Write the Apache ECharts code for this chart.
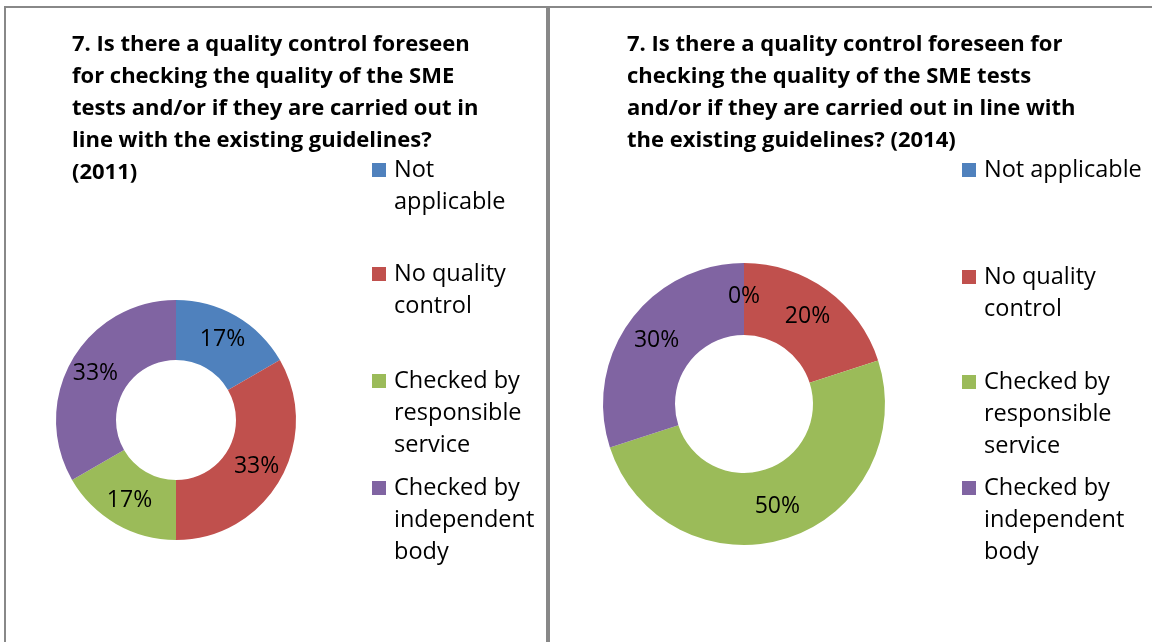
<!DOCTYPE html>
<html>
<head>
<meta charset="utf-8">
<style>
  html, body { margin: 0; padding: 0; background: #fff; }
  #chart { width: 1152px; height: 642px; }
</style>
<script src="https://cdn.jsdelivr.net/npm/echarts@6/dist/echarts.min.js"></script>
</head>
<body>
<div id="chart"></div>
<script>
const categories = ['Not applicable', 'No quality control', 'Checked by responsible service', 'Checked by independent body']
const values2011 = [1, 2, 1, 2]
const values2014 = [0, 2, 5, 3]
const colors = ['#4f81bd', '#c0504d', '#9bbb59', '#8064a2']

// legend text as wrapped in each panel
const legendLines2011 = [['Not', 'applicable'], ['No quality', 'control'], ['Checked by', 'responsible', 'service'], ['Checked by', 'independent', 'body']]
const legendLines2014 = [['Not applicable'], ['No quality', 'control'], ['Checked by', 'responsible', 'service'], ['Checked by', 'independent', 'body']]

const title2011 = '7. Is there a quality control foreseen\nfor checking the quality of the SME\ntests and/or if they are carried out in\nline with the existing guidelines?\n(2011)'
const title2014 = '7. Is there a quality control foreseen for\nchecking the quality of the SME tests\nand/or if they are carried out in line with\nthe existing guidelines? (2014)'

const FONT = '"Open Sans", Lato, sans-serif'
const LH = 32

// one legend per item; blank lines on top keep the icon next to the first line
function legendsFor(lines, left, firstLineY) {
  return lines.map((ls, i) => {
    const n = ls.length
    return {
      data: [categories[i]],
      left: left,
      top: firstLineY[i] - (2 * n - 1) * LH / 2,
      orient: 'vertical',
      padding: 0,
      icon: 'rect',
      itemWidth: 14,
      itemHeight: 14,
      selectedMode: false,
      formatter: () => '\n'.repeat(n - 1) + ls.join('\n'),
      textStyle: {
        fontFamily: FONT,
        fontSize: 23.5,
        color: '#000',
        lineHeight: LH,
        padding: [0, 0, 0, 3],
      },
    }
  })
}

function pieSeries(values, center, radius) {
  return {
    type: 'pie',
    center: center,
    radius: radius,
    startAngle: 90,
    clockwise: true,
    avoidLabelOverlap: false,
    minShowLabelAngle: -1,
    itemStyle: { borderWidth: 0 },
    label: {
      show: true,
      position: 'inside',
      formatter: (p) => Math.round(p.percent) + '%',
      fontFamily: FONT,
      fontSize: 23,
      color: '#000',
      textBorderWidth: 0,
    },
    labelLine: { show: false },
    emphasis: { disabled: true },
    data: categories.map((name, i) => ({ name, value: values[i] })),
  }
}

const titleStyle = { fontFamily: FONT, fontSize: 22, fontWeight: 'bold', color: '#000', lineHeight: LH }

const chart = echarts.init(document.getElementById('chart'))
chart.setOption({
  animation: false,
  color: colors,
  title: [
    { text: title2011, left: 72, top: 45 - LH / 2, padding: 0, textStyle: titleStyle },
    { text: title2014, left: 627, top: 45 - LH / 2, padding: 0, textStyle: titleStyle },
  ],
  legend: [
    ...legendsFor(legendLines2011, 372, [170, 274, 381, 488]),
    ...legendsFor(legendLines2014, 962, [170, 277, 382, 488]),
  ],
  series: [
    pieSeries(values2011, [176, 420], [60, 120]),
    pieSeries(values2014, [744, 404], [69, 141]),
  ],
  graphic: [
    { type: 'rect', shape: { x: 4, y: 6, width: 1148, height: 2 }, style: { fill: '#888' } },
    { type: 'rect', shape: { x: 4, y: 6, width: 2, height: 636 }, style: { fill: '#888' } },
    { type: 'rect', shape: { x: 546, y: 6, width: 4, height: 636 }, style: { fill: '#888' } },
  ],
})
</script>
</body>
</html>
